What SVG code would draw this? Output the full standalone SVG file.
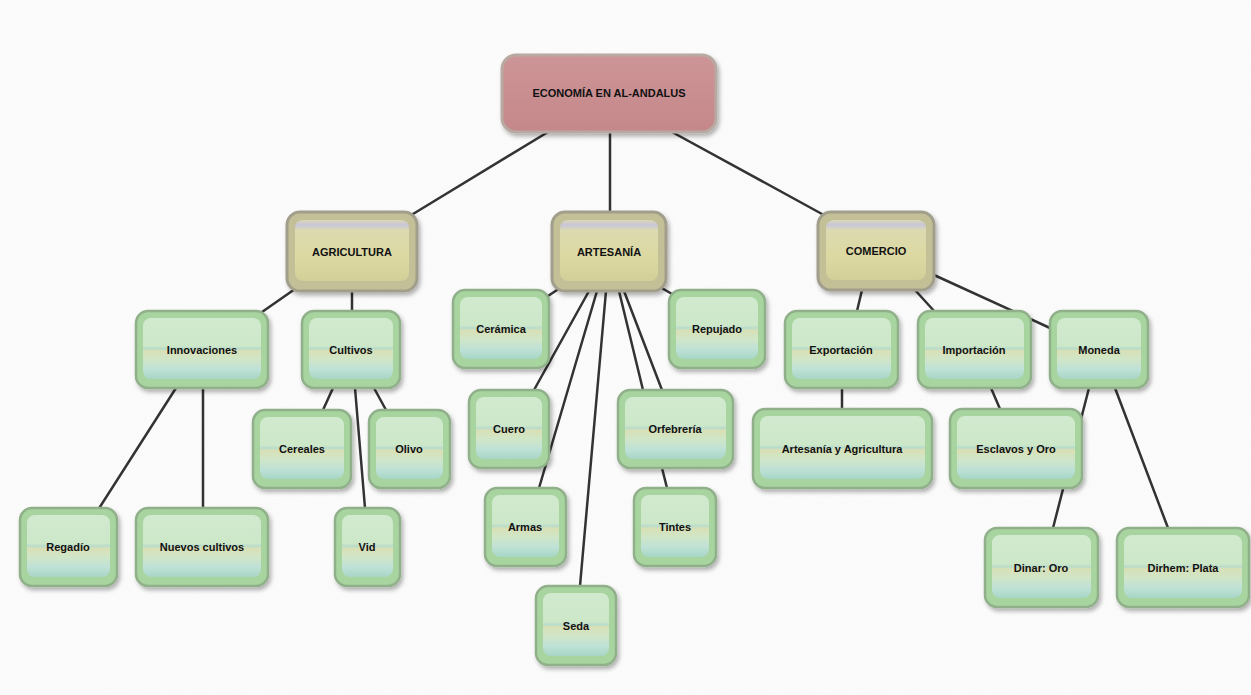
<svg xmlns="http://www.w3.org/2000/svg" width="1251" height="695" viewBox="0 0 1251 695">
<defs>
<filter id="sh" x="-20%" y="-20%" width="140%" height="150%">
<feDropShadow dx="2" dy="3" stdDeviation="2" flood-color="#000" flood-opacity="0.3"/>
</filter>
<filter id="tex" x="0" y="0" width="100%" height="100%">
<feTurbulence type="fractalNoise" baseFrequency="0.9" numOctaves="2" seed="3" result="n"/>
<feColorMatrix in="n" type="matrix" values="0 0 0 0 0.88  0 0 0 0 0.88  0 0 0 0 0.9  0 0 0 -1.8 1.0"/>
</filter>
<linearGradient id="gLeaf" x1="0" y1="0" x2="0" y2="1">
<stop offset="0" stop-color="#d1eacf"/>
<stop offset="0.46" stop-color="#cde7c9"/>
<stop offset="0.5" stop-color="#b8dccb"/>
<stop offset="0.54" stop-color="#d8e0b6"/>
<stop offset="0.68" stop-color="#d0e6c8"/>
<stop offset="0.84" stop-color="#bfe1d6"/>
<stop offset="1" stop-color="#a7d6c6"/>
</linearGradient>
<linearGradient id="gCat" x1="0" y1="0" x2="0" y2="1">
<stop offset="0" stop-color="#d9d8b4"/>
<stop offset="0.08" stop-color="#c9c6da"/>
<stop offset="0.17" stop-color="#dcdab0"/>
<stop offset="0.6" stop-color="#dcd9a2"/>
<stop offset="1" stop-color="#d3cf98"/>
</linearGradient>
<linearGradient id="gRoot" x1="0" y1="0" x2="0" y2="1">
<stop offset="0" stop-color="#cd9597"/>
<stop offset="1" stop-color="#c5878a"/>
</linearGradient>
</defs>
<style>
.bg{fill:#fbfbfb}
.edge{stroke:#333;stroke-width:2.5;fill:none;stroke-linecap:round}
.leafO{fill:#a8d4a0;stroke:#90b08a;stroke-width:2.5;filter:url(#sh)}
.leafI{fill:url(#gLeaf)}
.catO{fill:#c3c097;stroke:#a29e8c;stroke-width:3;filter:url(#sh)}
.catI{fill:url(#gCat)}
.rootO{fill:url(#gRoot);stroke:#b8aaa2;stroke-width:3;filter:url(#sh)}
.lbl{font-family:"Liberation Sans",Arial,sans-serif;font-weight:bold;font-size:11px;fill:#111;text-anchor:middle}
</style>
<rect class="bg" width="1251" height="695"/>
<rect width="1251" height="695" filter="url(#tex)" opacity="0.35"/>
<g id="connectors">
<line class="edge" x1="548" y1="132" x2="413" y2="214"/>
<line class="edge" x1="610" y1="132" x2="610" y2="212"/>
<line class="edge" x1="672" y1="132" x2="822" y2="214"/>
<line class="edge" x1="295" y1="289" x2="262" y2="312"/>
<line class="edge" x1="352" y1="291" x2="352" y2="311"/>
<line class="edge" x1="176" y1="388" x2="98" y2="510"/>
<line class="edge" x1="203" y1="388" x2="203" y2="508"/>
<line class="edge" x1="333" y1="388" x2="323" y2="410"/>
<line class="edge" x1="355" y1="388" x2="365" y2="508"/>
<line class="edge" x1="374" y1="388" x2="386" y2="410"/>
<line class="edge" x1="560" y1="288" x2="548" y2="296"/>
<line class="edge" x1="660" y1="287" x2="672" y2="294"/>
<line class="edge" x1="589" y1="291" x2="534" y2="390"/>
<line class="edge" x1="597" y1="291" x2="539" y2="488"/>
<line class="edge" x1="606" y1="291" x2="580" y2="586"/>
<line class="edge" x1="619" y1="291" x2="643" y2="390"/>
<line class="edge" x1="624" y1="291" x2="662" y2="390"/>
<line class="edge" x1="662" y1="468" x2="667" y2="488"/>
<line class="edge" x1="862" y1="290" x2="857" y2="311"/>
<line class="edge" x1="915" y1="290" x2="935" y2="312"/>
<line class="edge" x1="934" y1="275" x2="1050" y2="328"/>
<line class="edge" x1="842" y1="388" x2="842" y2="409"/>
<line class="edge" x1="991" y1="388" x2="1000" y2="409"/>
<line class="edge" x1="1089" y1="388" x2="1053" y2="528"/>
<line class="edge" x1="1115" y1="388" x2="1168" y2="528"/>
</g>
<g id="n-root"><rect class="rootO" x="502" y="55" width="214" height="77" rx="14"/><text class="lbl" x="609" y="97">ECONOMÍA EN AL-ANDALUS</text></g>
<g id="n-agricultura"><rect class="catO" x="287" y="212" width="130" height="79" rx="13"/><rect class="catI" x="295" y="220" width="114" height="61" rx="8"/><text class="lbl" x="352" y="256">AGRICULTURA</text></g>
<g id="n-artesania"><rect class="catO" x="552" y="212" width="114" height="79" rx="13"/><rect class="catI" x="560" y="220" width="98" height="61" rx="8"/><text class="lbl" x="609" y="256">ARTESANÍA</text></g>
<g id="n-comercio"><rect class="catO" x="818" y="212" width="116" height="78" rx="13"/><rect class="catI" x="826" y="220" width="100" height="60" rx="8"/><text class="lbl" x="876" y="255">COMERCIO</text></g>
<g id="n-innovaciones"><rect class="leafO" x="136" y="311" width="132" height="77" rx="12"/><rect class="leafI" x="143" y="318" width="118" height="61" rx="8"/><text class="lbl" x="202" y="354">Innovaciones</text></g>
<g id="n-cultivos"><rect class="leafO" x="302" y="311" width="98" height="77" rx="12"/><rect class="leafI" x="309" y="318" width="84" height="61" rx="8"/><text class="lbl" x="351" y="354">Cultivos</text></g>
<g id="n-ceramica"><rect class="leafO" x="453" y="290" width="96" height="78" rx="12"/><rect class="leafI" x="460" y="297" width="82" height="62" rx="8"/><text class="lbl" x="501" y="333">Cerámica</text></g>
<g id="n-repujado"><rect class="leafO" x="669" y="290" width="96" height="78" rx="12"/><rect class="leafI" x="676" y="297" width="82" height="62" rx="8"/><text class="lbl" x="717" y="333">Repujado</text></g>
<g id="n-exportacion"><rect class="leafO" x="785" y="311" width="113" height="77" rx="12"/><rect class="leafI" x="792" y="318" width="99" height="61" rx="8"/><text class="lbl" x="841" y="354">Exportación</text></g>
<g id="n-importacion"><rect class="leafO" x="918" y="311" width="113" height="77" rx="12"/><rect class="leafI" x="925" y="318" width="99" height="61" rx="8"/><text class="lbl" x="974" y="354">Importación</text></g>
<g id="n-moneda"><rect class="leafO" x="1050" y="311" width="98" height="77" rx="12"/><rect class="leafI" x="1057" y="318" width="84" height="61" rx="8"/><text class="lbl" x="1099" y="354">Moneda</text></g>
<g id="n-cereales"><rect class="leafO" x="253" y="410" width="98" height="78" rx="12"/><rect class="leafI" x="260" y="417" width="84" height="62" rx="8"/><text class="lbl" x="302" y="453">Cereales</text></g>
<g id="n-olivo"><rect class="leafO" x="369" y="410" width="81" height="78" rx="12"/><rect class="leafI" x="376" y="417" width="67" height="62" rx="8"/><text class="lbl" x="409" y="453">Olivo</text></g>
<g id="n-cuero"><rect class="leafO" x="469" y="390" width="80" height="78" rx="12"/><rect class="leafI" x="476" y="397" width="66" height="62" rx="8"/><text class="lbl" x="509" y="433">Cuero</text></g>
<g id="n-orfebreria"><rect class="leafO" x="618" y="390" width="115" height="78" rx="12"/><rect class="leafI" x="625" y="397" width="101" height="62" rx="8"/><text class="lbl" x="675" y="433">Orfebrería</text></g>
<g id="n-artesania-agricultura"><rect class="leafO" x="753" y="409" width="179" height="79" rx="12"/><rect class="leafI" x="760" y="416" width="165" height="63" rx="8"/><text class="lbl" x="842" y="453">Artesanía y Agricultura</text></g>
<g id="n-esclavos"><rect class="leafO" x="950" y="409" width="132" height="79" rx="12"/><rect class="leafI" x="957" y="416" width="118" height="63" rx="8"/><text class="lbl" x="1016" y="453">Esclavos y Oro</text></g>
<g id="n-armas"><rect class="leafO" x="485" y="488" width="81" height="78" rx="12"/><rect class="leafI" x="492" y="495" width="67" height="62" rx="8"/><text class="lbl" x="525" y="531">Armas</text></g>
<g id="n-tintes"><rect class="leafO" x="634" y="488" width="82" height="78" rx="12"/><rect class="leafI" x="641" y="495" width="68" height="62" rx="8"/><text class="lbl" x="675" y="531">Tintes</text></g>
<g id="n-regadio"><rect class="leafO" x="20" y="508" width="97" height="78" rx="12"/><rect class="leafI" x="27" y="515" width="83" height="62" rx="8"/><text class="lbl" x="68" y="551">Regadío</text></g>
<g id="n-nuevos-cultivos"><rect class="leafO" x="136" y="508" width="132" height="78" rx="12"/><rect class="leafI" x="143" y="515" width="118" height="62" rx="8"/><text class="lbl" x="202" y="551">Nuevos cultivos</text></g>
<g id="n-vid"><rect class="leafO" x="335" y="508" width="65" height="78" rx="12"/><rect class="leafI" x="342" y="515" width="51" height="62" rx="8"/><text class="lbl" x="367" y="551">Vid</text></g>
<g id="n-seda"><rect class="leafO" x="536" y="586" width="80" height="79" rx="12"/><rect class="leafI" x="543" y="593" width="66" height="63" rx="8"/><text class="lbl" x="576" y="630">Seda</text></g>
<g id="n-dinar"><rect class="leafO" x="985" y="528" width="113" height="79" rx="12"/><rect class="leafI" x="992" y="535" width="99" height="63" rx="8"/><text class="lbl" x="1041" y="572">Dinar: Oro</text></g>
<g id="n-dirhem"><rect class="leafO" x="1117" y="528" width="132" height="79" rx="12"/><rect class="leafI" x="1124" y="535" width="118" height="63" rx="8"/><text class="lbl" x="1183" y="572">Dirhem: Plata</text></g>
</svg>
